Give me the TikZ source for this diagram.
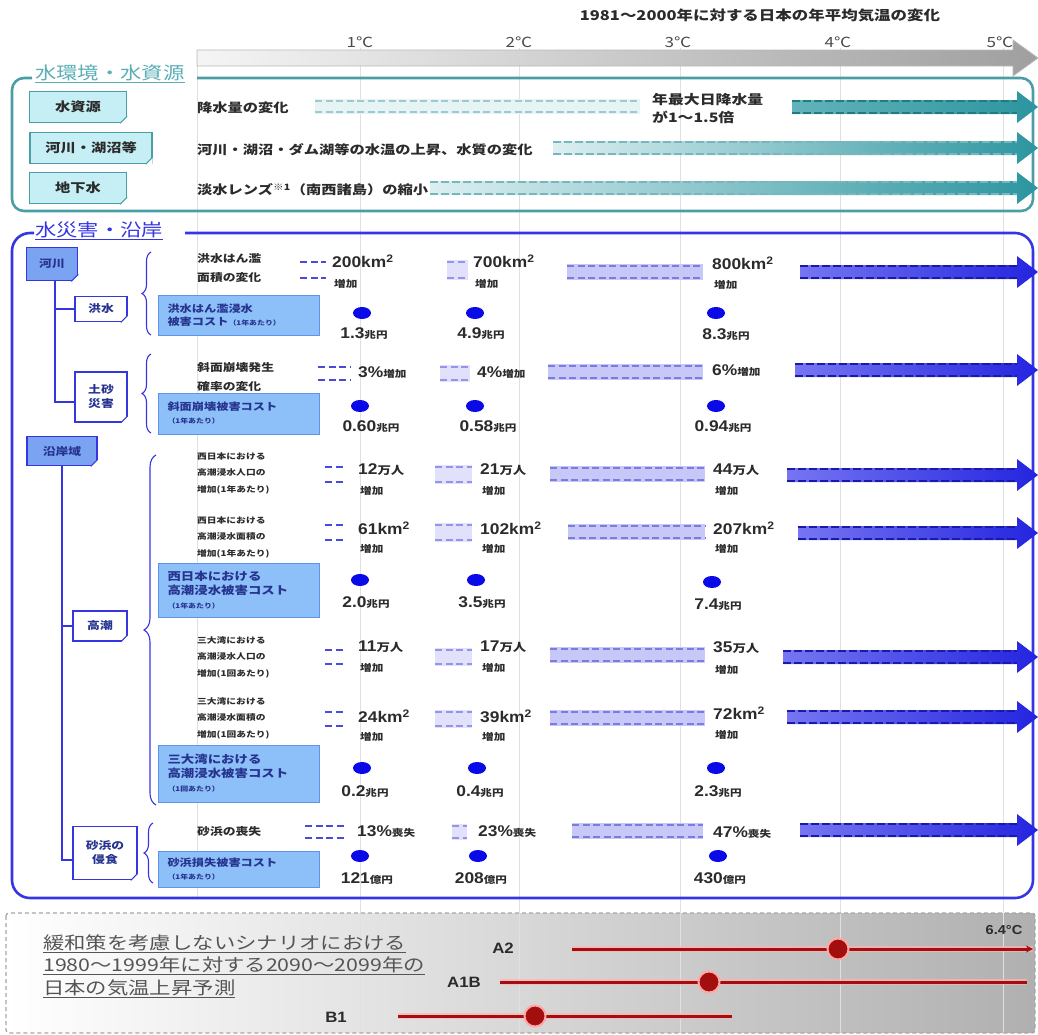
\documentclass[tikz,border=0pt]{standalone}
\usepackage{fontspec}
\setmainfont{Noto Sans CJK JP}[FakeStretch=1.22]
\newfontfamily\numf{Liberation Sans}[FakeStretch=1.12]
\usetikzlibrary{decorations.pathreplacing,calc,shapes.geometric,arrows.meta}
\definecolor{txt}{HTML}{2B2B2B}
\definecolor{tgray}{HTML}{4A4A4A}
\definecolor{bgray}{HTML}{555555}
\definecolor{tealtitle}{HTML}{5AAEB5}
\definecolor{teal1}{HTML}{4A9EA6}
\definecolor{tealbox}{HTML}{C6EFF5}
\definecolor{teallt}{HTML}{DCEFF1}
\definecolor{tealmid}{HTML}{62B3BA}
\definecolor{tealdk}{HTML}{2C959F}
\definecolor{tealedge}{HTML}{237A82}
\definecolor{blu}{HTML}{3535E2}
\definecolor{bluemid}{HTML}{7676F2}
\definecolor{bluedk}{HTML}{2424E0}
\definecolor{blueedge}{HTML}{1A1AAA}
\definecolor{lav}{HTML}{C8C8F8}
\definecolor{lavdk}{HTML}{7C7CDE}
\definecolor{dashblue}{HTML}{4A4AD8}
\definecolor{dashlt}{HTML}{9494EC}
\definecolor{costfill}{HTML}{8DC0F8}
\definecolor{costdraw}{HTML}{5E94EA}
\definecolor{navy}{HTML}{26338F}
\definecolor{riverfill}{HTML}{7AA4F2}
\definecolor{dotblue}{HTML}{0A0AE8}
\definecolor{redl}{HTML}{A30E0E}
\newcommand\fsz[2]{\fontsize{#1}{#2}\selectfont}
\newcommand\vn[1]{{\numf\bfseries\fsz{15.5}{16}#1}}
\newcommand\vs[1]{{\bfseries\fsz{9.5}{11}#1}}
\newcommand\vu[1]{{\bfseries\fsz{11}{12}#1}}
\newcommand\smp[1]{{\fsz{6.5}{8}#1}}
\tikzset{
 gridln/.style={draw=black!12, line width=0.9pt},
 rowtxt/.style={anchor=west, align=left, inner sep=0pt, text=txt, font=\bfseries\fsz{10.5}{19}},
 rowsml/.style={anchor=west, align=left, inner sep=0pt, text=txt, font=\bfseries\fsz{8}{16.5}},
 wrowtxt/.style={anchor=west, align=left, inner sep=0pt, text=txt, font=\bfseries\fsz{12.5}{15}},
 valn/.style={anchor=west, inner sep=0pt, text=txt},
 cval/.style={anchor=center, inner sep=0pt, text=txt},
 bdot/.style={ellipse, fill=dotblue, minimum width=18pt, minimum height=12pt, inner sep=0pt},
 wbox/.style={draw=teal1, fill=tealbox, line width=1.4pt, inner sep=0pt, minimum height=31pt, text=txt, font=\bfseries\fsz{12.5}{14}},
 tbox/.style={draw=blu, fill=white, line width=1.6pt, inner sep=0pt, align=center, text=navy, font=\bfseries\fsz{10.5}{14}},
 tboxf/.style={tbox, fill=riverfill},
 costbox/.style={draw=costdraw, fill=costfill, line width=1pt, inner xsep=9pt, inner ysep=0pt, text width=143pt, align=left, text=navy, font=\bfseries\fsz{10}{13}},
 treeln/.style={draw=blu, line width=1.8pt},
 brc/.style={draw=blu, line width=1.1pt, decorate, decoration={brace, amplitude=9pt}},
 dsh/.style={line width=2.6pt, dash pattern=on 7pt off 3.5pt},
 dshb/.style={line width=2.8pt, dash pattern=on 8pt off 3pt},
 glow/.style={draw=red!30, line width=6pt, opacity=0.7},
 redln/.style={draw=redl, line width=3pt},
 rdot/.style={circle, fill=redl, draw=red!35, line width=2pt, minimum size=21pt, inner sep=0pt},
}
\newcommand\harr[6]{%
  \shade[left color=#4, right color=#5] (#1,#3-7) -- (#2-21,#3-7) -- (#2-21,#3-16) -- (#2,#3) -- (#2-21,#3+16) -- (#2-21,#3+7) -- (#1,#3+7) -- cycle;
  \draw[dshb,#6] (#1,#3-6) -- (#2-21,#3-6) (#1,#3+6) -- (#2-21,#3+6);}
\newcommand\segd[4]{\draw[dsh,dashblue] (#1,#3) -- (#2,#3) (#1,#4) -- (#2,#4);}
\newcommand\segf[4]{\fill[lav!55] (#1,#3-2) rectangle (#2,#4+2); \draw[dsh,dashlt] (#1,#3) -- (#2,#3) (#1,#4) -- (#2,#4);}
\newcommand\bandl[3]{\fill[lav] (#1,#3-8) rectangle (#2,#3+8); \draw[dsh,lavdk] (#1,#3-6) -- (#2,#3-6) (#1,#3+6) -- (#2,#3+6);}
\newcommand\fold[2]{\fill[white] ($(#1.south east)+(-7,0)$) -- (#1.south east) -- ($(#1.south east)+(0,-7)$) -- cycle;
  \draw[#2,line width=1pt] ($(#1.south east)+(-7,0)$) -- ($(#1.south east)+(0,-7)$);}
\begin{document}
\begin{tikzpicture}[x=1pt,y=-1pt]
\useasboundingbox (0,0) rectangle (1038,1034);
% bottom box background
\shade[left color=white, right color=gray!62, rounded corners=3pt] (6,913) rectangle (1035,1033);
% grid lines
\foreach \gx in {360,519,680,840,1003} {\draw[gridln] (\gx,48) -- (\gx,1033);}
\draw[gridln] (197,66) -- (197,898);
\draw[gray!70, line width=1.3pt, dash pattern=on 4pt off 3pt, rounded corners=3pt] (6,913) rectangle (1035,1033);
% top axis
\node[font=\bfseries\fsz{13.5}{14}, text=txt] (ttl) at (760,15) {1981～2000年に対する日本の年平均気温の変化};
\shadedraw[left color=gray!8, right color=gray!75, draw=gray!55, line width=0.8pt] (197,50) -- (1013,50) -- (1013,40) -- (1038,58) -- (1013,76) -- (1013,66) -- (197,66) -- cycle;
\node[font=\fsz{14}{15}, text=tgray] (tc1) at (360,42) {1℃};
\node[font=\fsz{14}{15}, text=tgray] (tc2) at (519,42) {2℃};
\node[font=\fsz{14}{15}, text=tgray] (tc3) at (678,42) {3℃};
\node[font=\fsz{14}{15}, text=tgray] (tc4) at (838,42) {4℃};
\node[font=\fsz{14}{15}, text=tgray] (tc5) at (1000,42) {5℃};
% ===== water section
\node[font=\fsz{17.5}{18}, text=tealtitle, anchor=west, inner sep=0pt] (wtitle) at (35,74) {\underline{水環境・水資源}};
\draw[teal1, line width=2.6pt, rounded corners=12pt] (32,78) -- (12,78) -- (12,211) -- (1033,211) -- (1033,78) -- (197,78);
\node[wbox, minimum width=97pt] (ws1) at (78,107) {水資源};
\node[wbox, minimum width=122pt] (ws2) at (91,148) {河川・湖沼等};
\node[wbox, minimum width=97pt] (ws3) at (78,188) {地下水};
\fold{ws1}{teal1}\fold{ws2}{teal1}\fold{ws3}{teal1}
\node[wrowtxt] (wr1) at (197,108) {降水量の変化};
\node[wrowtxt] (wr2) at (197,150) {河川・湖沼・ダム湖等の水温の上昇、水質の変化};
\node[wrowtxt] (wr3) at (197,190) {淡水レンズ\textsuperscript{※1}（南西諸島）の縮小};
\node[wrowtxt, font=\bfseries\fsz{13}{18}] (wr1b) at (652,109) {年最大日降水量\\が1～1.5倍};
\fill[teallt!70] (315,99) rectangle (640,114);
\draw[dsh,teal1!55] (315,101) -- (640,101) (315,112) -- (640,112);
\harr{792}{1038}{107}{tealmid}{tealdk}{tealedge}
\harr{553}{1038}{148}{teallt}{tealdk}{teal1!75}
\harr{430}{1038}{188}{teallt}{tealdk}{teal1!75}
% ===== hazard section
\node[font=\fsz{17.5}{18}, text=blu, anchor=west, inner sep=0pt] (btitle) at (35,231) {\underline{水災害・沿岸}};
\draw[blu, line width=2.6pt, rounded corners=18pt] (34,233) -- (12,233) -- (12,898) -- (1033,898) -- (1033,233) -- (185,233);
% tree
\node[tboxf, minimum width=51pt, minimum height=33pt] (r1) at (52,264) {河川};
\node[tbox, minimum width=52pt, minimum height=25pt] (r2) at (101,309) {洪水};
\node[tbox, minimum width=52pt, minimum height=50pt] (r3) at (101,397) {土砂\\災害};
\node[tboxf, minimum width=70pt, minimum height=29pt] (c1) at (62,451) {沿岸域};
\node[tbox, minimum width=54pt, minimum height=30pt] (c2) at (100,626) {高潮};
\node[tbox, minimum width=64pt, minimum height=53pt] (c3) at (105,853) {砂浜の\\侵食};
\draw[treeln] ([xshift=3pt]r1.south) |- (r2.west);
\draw[treeln] ([xshift=3pt]r1.south) |- ([yshift=-5pt]r3.west);
\draw[treeln] (c1.south) |- (c2.west);
\draw[treeln] (c1.south) |- ([yshift=-7pt]c3.west);
\fold{r1}{blu}\fold{r2}{blu}\fold{r3}{blu}\fold{c1}{blu}\fold{c2}{blu}\fold{c3}{blu}
% braces
\draw[brc] (151,335) -- (151,252);
\draw[brc] (151,433) -- (151,354);
\draw[brc, decoration={brace, amplitude=12pt}] (156,805) -- (156,455);
\draw[brc] (153,883) -- (153,823);
% cost boxes
\node[costbox, minimum height=40pt] (cb1) at (239,315) {洪水はん濫浸水\\被害コスト\smp{（1年あたり）}};
\node[costbox, minimum height=41pt] (cb2) at (239,413.5) {斜面崩壊被害コスト\\\smp{（1年あたり）}};
\node[costbox, minimum height=54pt, font=\bfseries\fsz{11}{14}] (cb3) at (239,590) {西日本における\\高潮浸水被害コスト\\\smp{（1年あたり）}};
\node[costbox, minimum height=57pt, font=\bfseries\fsz{11}{14}] (cb4) at (239,773.5) {三大湾における\\高潮浸水被害コスト\\\smp{（1回あたり）}};
\node[costbox, minimum height=36pt] (cb5) at (239,869.5) {砂浜損失被害コスト\\\smp{（1年あたり）}};
% row descriptions
\node[rowtxt] (fr1) at (197,268) {洪水はん濫\\面積の変化};
\node[rowtxt] (lr1) at (197,377) {斜面崩壊発生\\確率の変化};
\node[rowsml] (wx1) at (197,473) {西日本における\\高潮浸水人口の\\増加(1年あたり)};
\node[rowsml] (wx2) at (197,537) {西日本における\\高潮浸水面積の\\増加(1年あたり)};
\node[rowsml] (sx1) at (197,657) {三大湾における\\高潮浸水人口の\\増加(1回あたり)};
\node[rowsml] (sx2) at (197,718) {三大湾における\\高潮浸水面積の\\増加(1回あたり)};
\node[rowtxt] (bx1) at (197,832) {砂浜の喪失};
% ---- flood area row
\segd{300}{326}{262}{278}\segf{447}{468}{262}{278}\bandl{567}{703}{272}
\harr{800}{1038}{272}{bluemid}{bluedk}{blueedge}
\node[valn] (f1) at (332,261) {\vn{200km\textsuperscript{2}}};
\node[valn] (f1b) at (334,284) {\vs{増加}};
\node[valn] (f2) at (473,261) {\vn{700km\textsuperscript{2}}};
\node[valn] (f2b) at (475,284) {\vs{増加}};
\node[valn] (f3) at (712,263) {\vn{800km\textsuperscript{2}}};
\node[valn] (f3b) at (714,285) {\vs{増加}};
\node[bdot] (fd1) at (362,313) {};
\node[bdot] (fd2) at (475,313) {};
\node[bdot] (fd3) at (716,313) {};
\node[cval] (fc1) at (364,334) {\vn{1.3}\vs{兆円}};
\node[cval] (fc2) at (481,334) {\vn{4.9}\vs{兆円}};
\node[cval] (fc3) at (726,335) {\vn{8.3}\vs{兆円}};
% ---- landslide row
\segd{318}{350}{367}{380}\segf{440}{470}{367}{380}\bandl{548}{703}{372}
\harr{795}{1038}{370}{bluemid}{bluedk}{blueedge}
\node[valn] (l1) at (358,373) {\vn{3\%}\vs{増加}};
\node[valn] (l2) at (477,373) {\vn{4\%}\vs{増加}};
\node[valn] (l3) at (712,371) {\vn{6\%}\vs{増加}};
\node[bdot] (ld1) at (360,406) {};
\node[bdot] (ld2) at (475,406) {};
\node[bdot] (ld3) at (716,406) {};
\node[cval] (lc1) at (371,427) {\vn{0.60}\vs{兆円}};
\node[cval] (lc2) at (488,427) {\vn{0.58}\vs{兆円}};
\node[cval] (lc3) at (723,427) {\vn{0.94}\vs{兆円}};
% ---- west japan population
\segd{325}{346}{467}{482}\segf{435}{472}{467}{482}\bandl{550}{705}{474}
\harr{787}{1038}{475}{bluemid}{bluedk}{blueedge}
\node[valn] (w1) at (358,470) {\vn{12}\vu{万人}};
\node[valn] (w1b) at (360,491) {\vs{増加}};
\node[valn] (w2) at (480,470) {\vn{21}\vu{万人}};
\node[valn] (w2b) at (482,491) {\vs{増加}};
\node[valn] (w3) at (713,470) {\vn{44}\vu{万人}};
\node[valn] (w3b) at (715,491) {\vs{増加}};
% ---- west japan area
\segd{325}{346}{525}{540}\segf{435}{472}{525}{540}\bandl{568}{705}{532}
\harr{798}{1038}{533}{bluemid}{bluedk}{blueedge}
\node[valn] (v1) at (358,528) {\vn{61km\textsuperscript{2}}};
\node[valn] (v1b) at (360,549) {\vs{増加}};
\node[valn] (v2) at (480,528) {\vn{102km\textsuperscript{2}}};
\node[valn] (v2b) at (482,549) {\vs{増加}};
\node[valn] (v3) at (713,528) {\vn{207km\textsuperscript{2}}};
\node[valn] (v3b) at (715,549) {\vs{増加}};
\node[bdot] (wd1) at (360,580) {};
\node[bdot] (wd2) at (476,580) {};
\node[bdot] (wd3) at (712,582) {};
\node[cval] (wc1) at (366,603) {\vn{2.0}\vs{兆円}};
\node[cval] (wc2) at (482,603) {\vn{3.5}\vs{兆円}};
\node[cval] (wc3) at (718,605) {\vn{7.4}\vs{兆円}};
% ---- three bays population
\segd{325}{346}{650}{664}\segf{435}{472}{650}{664}\bandl{550}{705}{655}
\harr{783}{1038}{657}{bluemid}{bluedk}{blueedge}
\node[valn] (s1) at (358,647) {\vn{11}\vu{万人}};
\node[valn] (s1b) at (360,668) {\vs{増加}};
\node[valn] (s2) at (480,647) {\vn{17}\vu{万人}};
\node[valn] (s2b) at (482,668) {\vs{増加}};
\node[valn] (s3) at (713,648) {\vn{35}\vu{万人}};
\node[valn] (s3b) at (715,670) {\vs{増加}};
% ---- three bays area
\segd{325}{346}{712}{726}\segf{435}{472}{712}{726}\bandl{550}{705}{718}
\harr{787}{1038}{717}{bluemid}{bluedk}{blueedge}
\node[valn] (u1) at (358,716) {\vn{24km\textsuperscript{2}}};
\node[valn] (u1b) at (360,737) {\vs{増加}};
\node[valn] (u2) at (480,716) {\vn{39km\textsuperscript{2}}};
\node[valn] (u2b) at (482,737) {\vs{増加}};
\node[valn] (u3) at (713,713) {\vn{72km\textsuperscript{2}}};
\node[valn] (u3b) at (715,735) {\vs{増加}};
\node[bdot] (sd1) at (362,768) {};
\node[bdot] (sd2) at (477,768) {};
\node[bdot] (sd3) at (716,768) {};
\node[cval] (sc1) at (365,792) {\vn{0.2}\vs{兆円}};
\node[cval] (sc2) at (480,792) {\vn{0.4}\vs{兆円}};
\node[cval] (sc3) at (718,792) {\vn{2.3}\vs{兆円}};
% ---- beach
\segd{305}{345}{826}{838}\segf{452}{467}{826}{838}\bandl{572}{703}{831}
\harr{800}{1038}{830}{bluemid}{bluedk}{blueedge}
\node[valn] (b1) at (357,832) {\vn{13\%}\vs{喪失}};
\node[valn] (b2) at (478,832) {\vn{23\%}\vs{喪失}};
\node[valn] (b3) at (713,833) {\vn{47\%}\vs{喪失}};
\node[bdot] (bd1) at (360,856) {};
\node[bdot] (bd2) at (478,856) {};
\node[bdot] (bd3) at (718,856) {};
\node[cval] (bc1) at (367,879) {\vn{121}\vs{億円}};
\node[cval] (bc2) at (481,879) {\vn{208}\vs{億円}};
\node[cval] (bc3) at (720,879) {\vn{430}\vs{億円}};
% ===== bottom legend
\node[anchor=west, align=left, inner sep=0pt, font=\fsz{17.5}{22.5}, text=bgray] (proj) at (43,966) {\underline{緩和策を考慮しないシナリオにおける}\\\underline{1980～1999年に対する2090～2099年の}\\\underline{日本の気温上昇予測}};
\node[font=\numf\bfseries\fsz{15}{16}, text=txt] (la2) at (503,948) {A2};
\node[font=\numf\bfseries\fsz{15}{16}, text=txt] (la1b) at (464,982) {A1B};
\node[font=\numf\bfseries\fsz{15}{16}, text=txt] (lb1) at (336,1017) {B1};
\node[font=\numf\bfseries\fsz{13}{14}, text=txt] (t64) at (1004,930) {6.4°C};
\coordinate (a2s) at (572,949); \coordinate (a2e) at (1033,949);
\coordinate (a1s) at (500,982); \coordinate (a1e) at (1027,982);
\coordinate (b1s) at (398,1016); \coordinate (b1e) at (732,1016);
\draw[glow] (a2s) -- (a2e); \draw[glow] (a1s) -- (a1e); \draw[glow] (b1s) -- (b1e);
\draw[redln, -{Stealth[length=7pt,width=7pt]}] (a2s) -- (a2e);
\draw[redln] (a1s) -- (a1e);
\draw[redln] (b1s) -- (b1e);
\node[rdot] (da2) at (838,949) {};
\node[rdot] (da1) at (709,982) {};
\node[rdot] (db1) at (535,1016) {};
\end{tikzpicture}
\end{document}
